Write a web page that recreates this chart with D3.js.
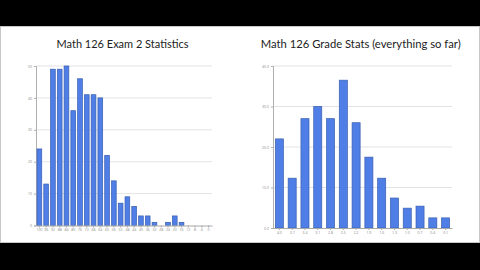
<!DOCTYPE html>
<html>
<head>
<meta charset="utf-8">
<script src="https://cdn.jsdelivr.net/npm/d3@7"></script>
<style>
  body { margin: 0; background: #000; }
  svg { display: block; }
</style>
</head>
<body>
<div id="chart"></div>
<script>
// exam 2 score distribution (left)
const examScores = ['100', '96', '92', '88', '84', '80', '76', '72', '68', '64', '60', '56', '52',
  '48', '44', '40', '36', '32', '28', '24', '20', '16', '12', '8', '4', '0'];
const examCounts = [24, 13, 49, 49, 50, 36, 46, 41, 41, 40, 22, 14, 7, 9, 6, 3, 3, 1, 0, 1, 3, 1, 0, 0, 0, 0];
const examTicks = [0, 10, 20, 30, 40, 50];

// grade stats (right)
const grades = ['4.0', '3.7', '3.4', '3.1', '2.8', '2.5', '2.2', '1.9', '1.6', '1.3', '1.0', '0.7', '0.4', '0.1'];
const gradeCounts = [22, 12.3, 27, 30, 27, 36.5, 26, 17.5, 12.3, 7.4, 4.9, 5.4, 2.5, 2.5];
const gradeTicks = [0, 10, 20, 30, 40];

const W = 480;
const H = 270;

const svg = d3.select('#chart')
  .append('svg')
  .attr('width', W)
  .attr('height', H);

svg.append('rect')
  .attr('width', W)
  .attr('height', H)
  .attr('fill', '#000');

svg.append('rect')
  .attr('x', 0.5)
  .attr('y', 26.5)
  .attr('width', W - 1)
  .attr('height', 216)
  .attr('fill', '#fff')
  .attr('stroke', '#c8c8c8');

function fitTitle(sel, target) {
  const w = sel.node().getComputedTextLength();
  sel.attr('font-size', 12 * target / w);
}

function drawChart(opt) {
  const g = svg.append('g');

  const x = d3.scaleBand()
    .domain(opt.cats)
    .range([opt.left, opt.right])
    .paddingInner(opt.pad)
    .paddingOuter(opt.pad / 2);

  const y = d3.scaleLinear()
    .domain([0, opt.max])
    .range([opt.bottom, opt.top]);

  // gridlines
  g.append('g')
    .selectAll('line')
    .data(opt.ticks.slice(1))
    .join('line')
      .attr('x1', opt.left)
      .attr('x2', opt.right)
      .attr('y1', d => y(d))
      .attr('y2', d => y(d))
      .attr('stroke', '#dcdcdc')
      .attr('stroke-width', 0.8);

  // y axis
  const yAxis = g.append('g')
    .attr('transform', `translate(${opt.left},0)`)
    .call(d3.axisLeft(y).tickValues(opt.ticks).tickSize(2).tickPadding(2).tickFormat(opt.yfmt));
  yAxis.select('.domain').attr('stroke', '#b0b0b0');
  yAxis.selectAll('.tick line').attr('stroke', '#b0b0b0');
  yAxis.selectAll('text')
    .attr('font-size', 3.5)
    .attr('fill', '#888')
    .attr('font-family', 'Open Sans');

  // bars
  g.append('g')
    .selectAll('rect')
    .data(opt.values)
    .join('rect')
      .attr('x', (d, i) => x(opt.cats[i]))
      .attr('y', d => y(d))
      .attr('width', x.bandwidth())
      .attr('height', d => opt.bottom - y(d))
      .attr('fill', '#4f7fe6')
      .attr('stroke', '#3a5faf')
      .attr('stroke-width', 0.7);

  // x axis
  const xAxis = g.append('g')
    .attr('transform', `translate(0,${opt.bottom})`)
    .call(d3.axisBottom(x).tickSize(2).tickPadding(1.5).tickSizeOuter(0));
  xAxis.select('.domain').attr('stroke', '#a8a8a8');
  xAxis.selectAll('.tick line').attr('stroke', '#a8a8a8');
  xAxis.selectAll('text')
    .attr('font-size', 3.5)
    .attr('fill', '#888')
    .attr('font-family', 'Open Sans');

  const title = g.append('text')
    .attr('x', opt.titleX)
    .attr('y', 48)
    .attr('text-anchor', 'middle')
    .attr('font-family', 'Lato')
    .attr('font-size', 12)
    .attr('fill', '#222')
    .text(opt.title);
  fitTitle(title, opt.titleW);
}

drawChart({
  cats: examScores,
  values: examCounts,
  ticks: examTicks,
  max: 50,
  left: 36,
  right: 212,
  top: 66,
  bottom: 225.5,
  pad: 0.3,
  yfmt: d => d,
  title: 'Math 126 Exam 2 Statistics',
  titleX: 122.5,
  titleW: 132,
});

drawChart({
  cats: grades,
  values: gradeCounts,
  ticks: gradeTicks,
  max: 40,
  left: 273,
  right: 452,
  top: 66,
  bottom: 228,
  pad: 0.37,
  yfmt: d3.format('.1f'),
  title: 'Math 126 Grade Stats (everything so far)',
  titleX: 360.7,
  titleW: 200,
});
</script>
</body>
</html>
